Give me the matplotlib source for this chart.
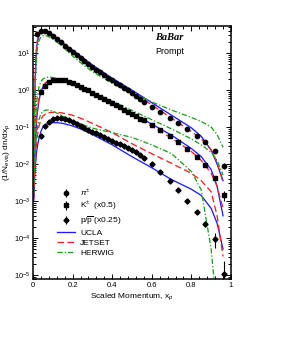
import matplotlib
matplotlib.use("Agg")
import matplotlib.pyplot as plt
from matplotlib.ticker import MultipleLocator, LogLocator, LogFormatterMathtext, NullFormatter

plt.rcParams["font.family"] = ["Liberation Sans", "DejaVu Sans"]
plt.rcParams["mathtext.fontset"] = "custom"
plt.rcParams["mathtext.rm"] = "Liberation Sans"
plt.rcParams["mathtext.it"] = "Liberation Sans:italic"

# measured points (log10 of 1/N dn/dx), dense bins then wide bins
x_pi = [0.02, 0.04, 0.06, 0.08, 0.10, 0.12, 0.14, 0.16, 0.18, 0.20, 0.22, 0.24, 0.26, 0.28,
        0.30, 0.32, 0.34, 0.36, 0.38, 0.40, 0.42, 0.44, 0.46, 0.48, 0.50, 0.52, 0.54, 0.56,
        0.60, 0.64, 0.69, 0.73, 0.78, 0.83, 0.87, 0.92, 0.965]
pi_log = [1.52, 1.61, 1.61, 1.55, 1.47, 1.38, 1.29, 1.20, 1.11, 1.02, 0.94, 0.86, 0.78, 0.70,
          0.62, 0.55, 0.48, 0.41, 0.34, 0.27, 0.20, 0.13, 0.06, -0.01, -0.08, -0.17, -0.24, -0.31,
          -0.46, -0.59, -0.76, -0.89, -1.05, -1.24, -1.41, -1.65, -2.05]
pi_err = [0] * 36 + [1.5e-3]

x_k = [0.04, 0.06, 0.08, 0.10, 0.12, 0.14, 0.16, 0.18, 0.20, 0.22, 0.24, 0.26, 0.28,
       0.30, 0.32, 0.34, 0.36, 0.38, 0.40, 0.42, 0.44, 0.46, 0.48, 0.50, 0.52, 0.54, 0.56,
       0.60, 0.64, 0.69, 0.73, 0.78, 0.83, 0.87, 0.92, 0.965]
k_log = [-0.05, 0.12, 0.21, 0.26, 0.28, 0.28, 0.26, 0.23, 0.19, 0.14, 0.09, 0.04, -0.01,
         -0.07, -0.12, -0.18, -0.24, -0.29, -0.35, -0.41, -0.47, -0.53, -0.59, -0.65, -0.71, -0.77, -0.82,
         -0.95, -1.08, -1.24, -1.41, -1.60, -1.81, -2.03, -2.38, -2.84]
k_err = [0] * 34 + [5e-4, 4.5e-4]

x_p = x_k
p_log = [-1.25, -0.98, -0.85, -0.79, -0.76, -0.76, -0.78, -0.82, -0.87, -0.92, -0.97, -1.02, -1.07,
         -1.12, -1.17, -1.22, -1.27, -1.32, -1.37, -1.42, -1.47, -1.52, -1.57, -1.63, -1.68, -1.75, -1.83,
         -2.00, -2.22, -2.46, -2.70, -3.00, -3.30, -3.62, -4.03, -4.97]
p_err = [0] * 33 + [4.5e-5, 4e-5, 1.3e-5]

# model curves (log10)
x_mc = [0.004, 0.007, 0.01, 0.015, 0.02, 0.03, 0.04, 0.05, 0.065, 0.08, 0.1, 0.12, 0.15,
        0.2, 0.25, 0.3, 0.4, 0.5, 0.6, 0.7, 0.8, 0.85, 0.9, 0.93, 0.96]
ucla_pi = [-2.3, -0.9, 0.1, 0.85, 1.22, 1.48, 1.56, 1.57, 1.55, 1.52, 1.45, 1.38, 1.27,
           1.08, 0.88, 0.68, 0.32, 0.0, -0.34, -0.68, -1.02, -1.25, -1.62, -2.0, -2.45]
jetset_pi = [-2.2, -0.8, 0.25, 0.95, 1.3, 1.53, 1.6, 1.61, 1.59, 1.55, 1.48, 1.4, 1.28,
             1.06, 0.84, 0.63, 0.28, -0.05, -0.4, -0.76, -1.12, -1.32, -1.62, -1.95, -2.5]
herwig_pi = [-2.4, -1.0, 0.0, 0.65, 1.05, 1.33, 1.44, 1.47, 1.47, 1.44, 1.38, 1.3, 1.17,
             0.92, 0.7, 0.5, 0.18, -0.08, -0.32, -0.54, -0.74, -0.85, -1.0, -1.2, -1.55]
ucla_k = [-2.9, -2.2, -1.6, -1.1, -0.7, -0.28, -0.05, 0.08, 0.19, 0.24, 0.27, 0.27, 0.25,
          0.17, 0.06, -0.06, -0.34, -0.62, -0.92, -1.22, -1.58, -1.8, -2.15, -2.6, -3.4]
jetset_k = [-2.8, -2.0, -1.45, -1.0, -0.62, -0.22, 0.0, 0.12, 0.21, 0.25, 0.27, 0.27, 0.24,
            0.16, 0.04, -0.08, -0.37, -0.67, -0.98, -1.3, -1.66, -1.9, -2.25, -2.6, -3.2]
herwig_k = [-2.6, -1.7, -1.1, -0.6, -0.25, 0.08, 0.23, 0.3, 0.34, 0.35, 0.34, 0.31, 0.26,
            0.16, 0.04, -0.06, -0.3, -0.55, -0.8, -1.05, -1.32, -1.48, -1.68, -1.9, -2.3]
ucla_p = [-3.0, -2.6, -2.2, -1.85, -1.6, -1.3, -1.12, -1.0, -0.93, -0.9, -0.88, -0.88, -0.9,
          -0.97, -1.07, -1.2, -1.48, -1.8, -2.1, -2.42, -2.68, -2.85, -3.2, -3.6, -4.3]
jetset_p = [-2.9, -2.4, -2.0, -1.6, -1.3, -0.98, -0.8, -0.7, -0.64, -0.61, -0.6, -0.6, -0.62,
            -0.68, -0.78, -0.9, -1.15, -1.45, -1.72, -1.98, -2.25, -2.45, -2.75, -3.4, -4.5]
herwig_p = [-2.8, -2.2, -1.8, -1.4, -1.1, -0.8, -0.64, -0.57, -0.54, -0.54, -0.57, -0.62, -0.7,
            -0.82, -0.93, -1.03, -1.15, -1.28, -1.48, -1.72, -2.2, -2.7, -4.3, -6.0, -8.0]


def lin(vals):
    return [10 ** v for v in vals]


fig = plt.figure(figsize=(2.82, 3.64), dpi=100)
ax = fig.add_axes([0.117, 0.2335, 0.702, 0.695])

blue, red, green = "#1f1fff", "#ff2020", "#20a020"
dash = (0, (5, 2.5))
dashdot = (0, (4, 1.5, 1, 1.5))
for ys, c, ls in [(ucla_pi, blue, "-"), (jetset_pi, red, dash), (herwig_pi, green, dashdot),
                  (ucla_k, blue, "-"), (jetset_k, red, dash), (herwig_k, green, dashdot),
                  (ucla_p, blue, "-"), (jetset_p, red, dash), (herwig_p, green, dashdot)]:
    ax.plot(x_mc, lin(ys), color=c, ls=ls, lw=0.95)

h_pi = ax.errorbar(x_pi, lin(pi_log), yerr=pi_err, fmt="o", color="black", ms=3.1, elinewidth=0.8, capsize=0)
h_k = ax.errorbar(x_k, lin(k_log), yerr=k_err, fmt="s", color="black", ms=2.9, elinewidth=0.8, capsize=0)
h_p = ax.errorbar(x_p, lin(p_log), yerr=p_err, fmt="D", color="black", ms=2.6, elinewidth=0.8, capsize=0)

l_u, = ax.plot([], [], color=blue, lw=0.95)
l_j, = ax.plot([], [], color=red, lw=0.95, ls=dash)
l_h, = ax.plot([], [], color=green, lw=0.95, ls=dashdot)

ax.set_yscale("log")
ax.set_xlim(0, 1)
ax.set_ylim(7.8e-6, 54)
ax.xaxis.set_minor_locator(MultipleLocator(0.04))
ax.set_xticks([0, 0.2, 0.4, 0.6, 0.8, 1.0])
ax.set_xticklabels(["0", "0.2", "0.4", "0.6", "0.8", "1"])
ax.yaxis.set_major_locator(LogLocator(base=10, numticks=20))
ax.yaxis.set_minor_locator(LogLocator(base=10, subs=range(2, 10), numticks=20))
ax.yaxis.set_major_formatter(LogFormatterMathtext())
ax.yaxis.set_minor_formatter(NullFormatter())
ax.tick_params(which="both", direction="in", top=True, right=True, labelsize=5.5, width=0.7, pad=2)
ax.tick_params(which="major", length=3.5)
ax.tick_params(which="minor", length=2)
for s in ax.spines.values():
    s.set_linewidth(1.1)

ax.set_xlabel("Scaled Momentum, x$_p$", fontsize=6, labelpad=2)
ax.set_ylabel("(1/N$_{evts}$) dn/dx$_p$", fontsize=6, labelpad=1)

ax.text(0.69, 0.955, "BaBar", transform=ax.transAxes, ha="center", va="center",
        fontsize=7.5, fontweight="bold", fontstyle="italic", family="Liberation Serif")
ax.text(0.69, 0.9, "Prompt", transform=ax.transAxes, ha="center", va="center", fontsize=6.5)

ax.legend([h_pi, h_k, h_p, l_u, l_j, l_h],
          [r"$\pi^{\pm}$", r"K$^{\pm}$  (x0.5)", r"p/$\overline{\rm p}$ (x0.25)", "UCLA", "JETSET", "HERWIG"],
          loc="lower left", bbox_to_anchor=(0.1, 0.07), frameon=False, fontsize=6,
          handlelength=2.2, handletextpad=0.6, labelspacing=0.25, borderpad=0, numpoints=1)

fig.savefig("out.png", dpi=100)
